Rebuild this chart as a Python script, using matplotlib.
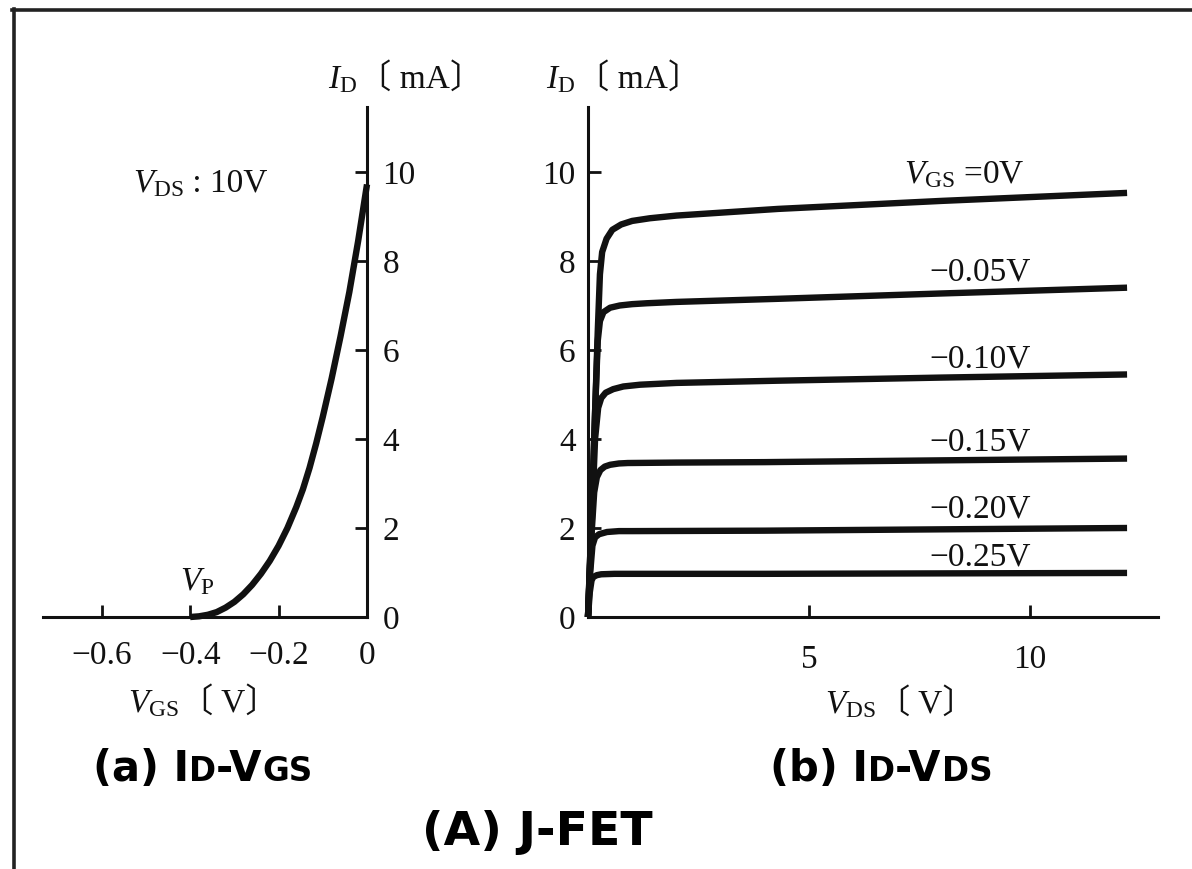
import matplotlib
matplotlib.use("Agg")
import matplotlib.pyplot as plt
from matplotlib.lines import Line2D

# ---------------- data ----------------
# (a) transfer characteristic I_D - V_GS  (V_DS = 10 V)
vgs_sweep = [-0.40, -0.38, -0.36, -0.34, -0.32, -0.30, -0.28, -0.26, -0.24,
             -0.22, -0.20, -0.18, -0.16, -0.145, -0.13, -0.115, -0.10,
             -0.08, -0.06, -0.04, -0.02, 0.0]
id_transfer = [0.0, 0.015, 0.05, 0.11, 0.21, 0.34, 0.51, 0.72, 0.97,
               1.26, 1.60, 2.00, 2.47, 2.87, 3.35, 3.90, 4.50,
               5.36, 6.30, 7.30, 8.45, 9.72]
vgs_ticks = [-0.6, -0.4, -0.2, 0.0]
vgs_tick_labels = ["\u22120.6", "\u22120.4", "\u22120.2", "0"]
id_ticks = [0, 2, 4, 6, 8, 10]
id_tick_labels = ["0", "2", "4", "6", "8", "10"]

# (b) output characteristics I_D - V_DS
vds_0 = [0, 0.08, 0.16, 0.22, 0.27, 0.32, 0.42, 0.55, 0.75, 1.0, 1.4, 2.0, 4.3, 8.0, 12.2]
id_0 = [0, 2.2, 4.6, 6.4, 7.7, 8.2, 8.5, 8.7, 8.82, 8.9, 8.96, 9.02, 9.17, 9.35, 9.53]

vds_05 = [0, 0.08, 0.16, 0.22, 0.27, 0.35, 0.5, 0.72, 1.0, 1.33, 2.0, 4.3, 8.0, 12.2]
id_05 = [0, 2.2, 4.6, 6.2, 6.65, 6.85, 6.95, 7.0, 7.03, 7.05, 7.08, 7.15, 7.27, 7.40]

vds_10 = [0, 0.08, 0.16, 0.23, 0.30, 0.40, 0.57, 0.80, 1.18, 2.0, 4.3, 8.0, 12.2]
id_10 = [0, 2.0, 4.0, 4.7, 4.92, 5.04, 5.12, 5.18, 5.22, 5.26, 5.31, 5.38, 5.45]

vds_15 = [0, 0.07, 0.14, 0.20, 0.28, 0.38, 0.5, 0.7, 0.9, 2.0, 4.0, 8.0, 12.2]
id_15 = [0, 1.7, 2.8, 3.14, 3.30, 3.38, 3.42, 3.45, 3.46, 3.47, 3.48, 3.52, 3.56]

vds_20 = [0, 0.05, 0.10, 0.16, 0.25, 0.43, 0.7, 1.0, 4.0, 8.0, 12.2]
id_20 = [0, 1.0, 1.6, 1.79, 1.86, 1.91, 1.93, 1.93, 1.94, 1.97, 2.0]

vds_25 = [0, 0.04, 0.08, 0.12, 0.20, 0.30, 0.6, 4.0, 8.0, 12.2]
id_25 = [0, 0.55, 0.82, 0.90, 0.94, 0.96, 0.97, 0.97, 0.98, 0.99]

curve_vds = [vds_0, vds_05, vds_10, vds_15, vds_20, vds_25]
curve_id = [id_0, id_05, id_10, id_15, id_20, id_25]
curve_labels = [r"$V_{\rm GS}$ =0V", "\u22120.05V", "\u22120.10V",
                "\u22120.15V", "\u22120.20V", "\u22120.25V"]
vds_ticks = [5, 10]
vds_tick_labels = ["5", "10"]

# ---------------- style ----------------
plt.rcParams['font.family'] = ['Liberation Serif', 'Noto Sans CJK JP']
plt.rcParams['mathtext.fontset'] = 'custom'
plt.rcParams['mathtext.rm'] = 'Liberation Serif'
plt.rcParams['mathtext.it'] = 'Liberation Serif:italic'
plt.rcParams['mathtext.bf'] = 'Liberation Serif:bold'

W, H = 1192, 869
fig = plt.figure(figsize=(W / 100, H / 100), dpi=100)
fig.patch.set_facecolor('white')


def fx(px):
    return px / W


def fy(py):
    return 1 - py / H


INK = '#111111'
SPINE_LW = 2.2
CURVE_LW = 4.6
FS = 24


def style_axes(ax, side):
    for s in ax.spines.values():
        s.set_visible(False)
    ax.spines['bottom'].set_visible(True)
    ax.spines[side].set_visible(True)
    for s in ('bottom', side):
        ax.spines[s].set_linewidth(SPINE_LW)
        ax.spines[s].set_color(INK)
    ax.set_facecolor('none')


# ---- left axes : I_D - V_GS ----
axL = fig.add_axes([fx(43), fy(617), (367 - 43) / W, (617 - 107) / H])
style_axes(axL, 'right')
axL.set_xlim(-0.733, 0)
axL.set_ylim(0, 11.46)
axL.yaxis.tick_right()
axL.set_xticks(vgs_ticks, labels=vgs_tick_labels)
axL.set_yticks(id_ticks, labels=id_tick_labels)
axL.tick_params(axis='x', direction='in', length=9, width=2, pad=17,
                labelsize=FS, colors=INK)
axL.tick_params(axis='y', direction='in', length=9, width=2, pad=11,
                labelsize=FS, colors=INK)
axL.plot(vgs_sweep, id_transfer, color=INK, lw=CURVE_LW, clip_on=False,
         solid_capstyle='butt', solid_joinstyle='round')

# ---- right axes : I_D - V_DS ----
axR = fig.add_axes([fx(588), fy(617), (1158 - 588) / W, (617 - 107) / H])
style_axes(axR, 'left')
axR.set_xlim(0, 12.9)
axR.set_ylim(0, 11.46)
axR.set_xticks(vds_ticks, labels=vds_tick_labels)
axR.set_yticks(id_ticks, labels=id_tick_labels)
axR.tick_params(axis='x', direction='in', length=9, width=2, pad=20,
                labelsize=FS, colors=INK)
axR.tick_params(axis='y', direction='in', length=9, width=2, pad=9,
                labelsize=FS, colors=INK)
for xs, ys in zip(curve_vds, curve_id):
    axR.plot(xs, ys, color=INK, lw=CURVE_LW, clip_on=False,
             solid_capstyle='butt', solid_joinstyle='round')

# ---------------- texts ----------------
renderer = fig.canvas.get_renderer()


def chain(x_px, y_px, parts):
    """Place text pieces one after another on a common baseline."""
    x = x_px
    for part in parts:
        s, kw = part[0], part[1]
        dx = part[2] if len(part) > 2 else 0
        t = fig.text(fx(x + dx), fy(y_px), s, ha='left', va='baseline', **kw)
        bb = t.get_window_extent(renderer)
        x = bb.x1


serif = dict(fontsize=FS, color=INK)
cjk = dict(fontsize=FS, color=INK, family=['Liberation Serif', 'Noto Sans CJK JP'])

# axis unit labels
chain(328, 88, [(r"$I_{\rm D}$", serif), ("\u3014 mA\u3015", cjk, 1)])
chain(546, 88, [(r"$I_{\rm D}$", serif), ("\u3014 mA\u3015", cjk, 1)])
chain(128, 712, [(r"$V_{\rm GS}$", serif), ("\u3014 V\u3015", cjk, 1)])
chain(825, 713, [(r"$V_{\rm DS}$", serif), ("\u3014 V\u3015", cjk, 1)])

# annotations
chain(133, 192, [(r"$V_{\rm DS}$", serif), (" : 10V", serif)])
fig.text(fx(180), fy(590), r"$V_{\rm P}$", ha='left', va='baseline', **serif)

label_x = [904, 929, 929, 929, 929, 929]
label_y = [183, 280, 367, 450, 518, 565]
for s, lx, ly in zip(curve_labels, label_x, label_y):
    fig.text(fx(lx), fy(ly), s, ha='left', va='baseline', **serif)

# captions
big = dict(fontsize=30, family='DejaVu Sans', weight='bold', color='black')
small = dict(fontsize=23.5, family='DejaVu Sans', weight='bold', color='black')
chain(93, 781, [("(a) I", big), ("D", small), ("-V", big), ("GS", small)])
chain(770, 781, [("(b) I", big), ("D", small), ("-V", big), ("DS", small)])
fig.text(fx(422), fy(845), "(A) J-FET", ha='left', va='baseline',
         fontsize=34, family='DejaVu Sans', weight='bold', color='black')

# frame lines (top and left)
fig.add_artist(Line2D([fx(12), 1.0], [fy(10), fy(10)], color='#222222', lw=2.6))
fig.add_artist(Line2D([fx(13.5), fx(13.5)], [fy(9), 0.0], color='#222222', lw=2.6))

fig.savefig('out.png', dpi=100, facecolor='white')
